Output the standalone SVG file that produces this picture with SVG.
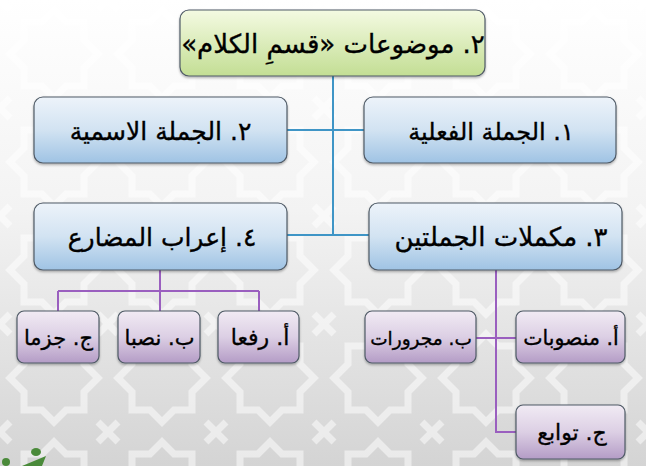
<svg xmlns="http://www.w3.org/2000/svg" width="646" height="466" viewBox="0 0 646 466">
  <defs>
    <linearGradient id="bg" x1="0" y1="0" x2="0" y2="1">
      <stop offset="0" stop-color="#ffffff"/>
      <stop offset="0.45" stop-color="#f3f3f3"/>
      <stop offset="1" stop-color="#d4d4d4"/>
    </linearGradient>
    <pattern id="pat" x="0" y="0" width="108" height="108" patternUnits="userSpaceOnUse">
      <path d="M54 10 L66 22 L84 22 L84 40 L98 54 L84 68 L84 86 L66 86 L54 98 L42 86 L24 86 L24 68 L10 54 L24 40 L24 22 L42 22 Z" fill="none" stroke="#ffffff" stroke-width="7" stroke-opacity="0.5"/>
      <path d="M0 0 L10 10 M108 0 L98 10 M0 108 L10 98 M108 108 L98 98" stroke="#ffffff" stroke-width="7" stroke-opacity="0.5"/>
    </pattern>
    <linearGradient id="gGreen" x1="0" y1="0" x2="0" y2="1">
      <stop offset="0" stop-color="#f4fae2"/>
      <stop offset="1" stop-color="#c3de94"/>
    </linearGradient>
    <linearGradient id="gBlue" x1="0" y1="0" x2="0" y2="1">
      <stop offset="0" stop-color="#edf3fa"/>
      <stop offset="0.5" stop-color="#d2e3f2"/>
      <stop offset="1" stop-color="#9fc3e4"/>
    </linearGradient>
    <linearGradient id="gPurple" x1="0" y1="0" x2="0" y2="1">
      <stop offset="0" stop-color="#f1ebf4"/>
      <stop offset="0.5" stop-color="#dccfe4"/>
      <stop offset="1" stop-color="#b49cc6"/>
    </linearGradient>
    <filter id="sh" x="-10%" y="-10%" width="120%" height="130%">
      <feDropShadow dx="0" dy="1.5" stdDeviation="1.2" flood-color="#000000" flood-opacity="0.3"/>
    </filter>
  </defs>
  <style>
    .box { stroke: #4f5a66; stroke-width: 1.2; filter: url(#sh); }
    .green { fill: url(#gGreen); }
    .blue { fill: url(#gBlue); }
    .purple { fill: url(#gPurple); }
    .t { font-family: "DejaVu Sans", sans-serif; fill: #000000; stroke: #000000; stroke-width: 0.35; text-anchor: middle; direction: rtl; }
    .t1 { font-size: 26px; }
    .t2 { font-size: 25px; }
    .t3 { font-size: 21px; }
    .lb { stroke: #3f95c6; stroke-width: 2; fill: none; }
    .lp { stroke: #9a5fbf; stroke-width: 2; fill: none; }
  </style>

  <rect width="646" height="466" fill="url(#bg)"/>
  <rect width="646" height="466" fill="url(#pat)"/>

  <g id="connectors">
    <path class="lb" d="M333 76 V235 M287 130 H364 M287 235 H369"/>
    <path class="lp" d="M160 270 V291 M58 291 H259 M58 291 V311 M160 291 V311 M259 291 V311"/>
    <path class="lp" d="M496 270 V432 H516 M476 338 H516"/>
  </g>

  <g id="n-root">
    <rect class="box green" x="180" y="10" width="305" height="66" rx="9"/>
    <text class="t t1" x="333" y="53">٢. موضوعات «قسمِ الكلام»</text>
  </g>
  <g id="n-ismiyya">
    <rect class="box blue" x="34" y="97" width="253" height="66" rx="9"/>
    <text class="t t2" x="160.5" y="140">٢. الجملة الاسمية</text>
  </g>
  <g id="n-filiyya">
    <rect class="box blue" x="364" y="97" width="252" height="66" rx="9"/>
    <text class="t t2" x="491" y="140" style="font-size:24px">١. الجملة الفعلية</text>
  </g>
  <g id="n-irab">
    <rect class="box blue" x="34" y="203" width="253" height="67" rx="9"/>
    <text class="t t2" x="162" y="246">٤. إعراب المضارع</text>
  </g>
  <g id="n-mukammilat">
    <rect class="box blue" x="369" y="203" width="253" height="67" rx="9"/>
    <text class="t t2" x="501" y="246" style="font-size:26px">٣. مكملات الجملتين</text>
  </g>

  <g id="n-jazman">
    <rect class="box purple" x="17" y="311" width="82" height="52" rx="7"/>
    <text class="t t3" x="58.5" y="345">ج. جزما</text>
  </g>
  <g id="n-nasban">
    <rect class="box purple" x="118" y="311" width="82" height="52" rx="7"/>
    <text class="t t3" x="159.5" y="345">ب. نصبا</text>
  </g>
  <g id="n-rafan">
    <rect class="box purple" x="218" y="311" width="81" height="52" rx="7"/>
    <text class="t t3" x="260" y="345" style="font-size:22px">أ. رفعا</text>
  </g>
  <g id="n-majrurat">
    <rect class="box purple" x="365" y="311" width="111" height="52" rx="7"/>
    <text class="t t3" x="421" y="345" style="font-size:18.5px">ب. مجرورات</text>
  </g>
  <g id="n-mansubat">
    <rect class="box purple" x="516" y="311" width="109" height="52" rx="7"/>
    <text class="t t3" x="571" y="345" style="font-size:20.5px">أ. منصوبات</text>
  </g>
  <g id="n-tawabi">
    <rect class="box purple" x="516" y="405" width="109" height="54" rx="7"/>
    <text class="t t3" x="572" y="440" style="font-size:22px">ج. توابع</text>
  </g>

  <g id="logo" fill="#4a8a3a">
    <ellipse cx="36" cy="452" rx="5" ry="4"/>
    <path d="M22 466 L46 456 L42 466 Z"/>
    <circle cx="6" cy="462" r="4"/>
  </g>
</svg>
